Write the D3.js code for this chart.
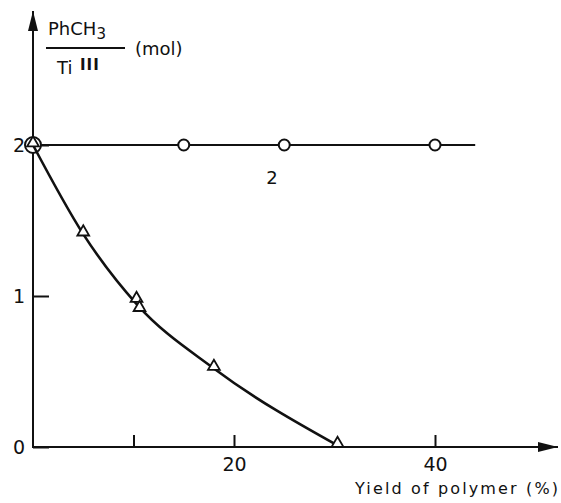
<!DOCTYPE html>
<html>
<head>
<meta charset="utf-8">
<script src="https://cdn.jsdelivr.net/npm/d3@7"></script>
<style>
  body { margin: 0; background: #fff; }
  text { font-family: "DejaVu Sans", "Liberation Sans", Arial, sans-serif; fill: #111; }
</style>
</head>
<body>
<div id="chart"></div>
<script>
// data
var circleYield = [0, 15, 25, 40];
var circleRatio = [2, 2, 2, 2];
var lineYield = [0, 44];          // horizontal line 2 extent
var triYield = [0, 5, 10.3, 10.6, 18, 30.3];
var triRatio = [2, 1.41, 0.97, 0.91, 0.52, 0.01];
var curveYield = [0, 5, 10.4, 18, 30.3];   // smooth curve drawn through the triangles
var curveRatio = [2, 1.41, 0.94, 0.52, 0.01];
var xTicks = [10, 20, 40];
var xTickLabels = [20, 40];
var yTicks = [0, 1, 2];

var svgWidth = 561;
var svgHeight = 503;

var svg = d3.select("#chart")
  .append("svg")
  .attr("width", svgWidth)
  .attr("height", svgHeight);

// scales (pixel positions taken from the figure)
var x = d3.scaleLinear().domain([0, 40]).range([33, 435]);
var y = d3.scaleLinear().domain([0, 2]).range([447, 145]);

var ink = "#111";

// arrowheads
var defs = svg.append("defs");
defs.append("marker")
  .attr("id", "arrow")
  .attr("viewBox", "0 0 20 10")
  .attr("refX", 20)
  .attr("refY", 5)
  .attr("markerWidth", 20)
  .attr("markerHeight", 10)
  .attr("markerUnits", "userSpaceOnUse")
  .attr("orient", "auto")
  .append("path")
  .attr("d", "M0,0 L20,5 L0,10 Z")
  .attr("fill", ink);

// x axis
var xAxis = d3.axisBottom(x)
  .tickValues(xTicks)
  .tickSizeInner(-12)
  .tickSizeOuter(0)
  .tickPadding(8)
  .tickFormat(d => xTickLabels.indexOf(d) >= 0 ? d : "");

var gx = svg.append("g")
  .attr("transform", `translate(0, ${y(0)})`)
  .call(xAxis);
gx.select(".domain").remove();
gx.selectAll(".tick line").attr("stroke", ink).attr("stroke-width", 2);
gx.selectAll(".tick text")
  .attr("font-size", 19)
  .attr("font-family", "DejaVu Sans, sans-serif")
  .attr("dy", "0.85em")
  .style("fill", ink);

svg.append("line")
  .attr("x1", x(0) - 1).attr("y1", y(0))
  .attr("x2", 558).attr("y2", y(0))
  .attr("stroke", ink).attr("stroke-width", 2)
  .attr("marker-end", "url(#arrow)");

// y axis
var yAxis = d3.axisLeft(y)
  .tickValues(yTicks)
  .tickSizeInner(-16)
  .tickSizeOuter(0)
  .tickPadding(8)
  .tickFormat(d3.format("d"));

var gy = svg.append("g")
  .attr("transform", `translate(${x(0)}, 0)`)
  .call(yAxis);
gy.select(".domain").remove();
gy.selectAll(".tick line").attr("stroke", ink).attr("stroke-width", 2);
gy.selectAll(".tick text")
  .attr("font-size", 19)
  .attr("font-family", "DejaVu Sans, sans-serif")
  .style("fill", ink);

svg.append("line")
  .attr("x1", x(0)).attr("y1", y(0) + 1)
  .attr("x2", x(0)).attr("y2", 11)
  .attr("stroke", ink).attr("stroke-width", 2)
  .attr("marker-end", "url(#arrow)");

// series 2 : flat line with circles
svg.append("line")
  .attr("x1", x(lineYield[0])).attr("y1", y(2))
  .attr("x2", x(lineYield[1])).attr("y2", y(2))
  .attr("stroke", ink).attr("stroke-width", 2.2);

svg.selectAll("circle.c2")
  .data(circleYield)
  .enter()
  .append("circle")
  .attr("class", "c2")
  .attr("cx", d => x(d))
  .attr("cy", (d, i) => y(circleRatio[i]))
  .attr("r", (d, i) => i === 0 ? 8 : 5.5)
  .attr("fill", "#fff")
  .attr("stroke", ink)
  .attr("stroke-width", 2);

svg.append("text")
  .attr("x", 272)
  .attr("y", 184)
  .attr("text-anchor", "middle")
  .attr("font-size", 18)
  .text("2");

// series 1 : curve with triangles
var curveLine = d3.line()
  .x(d => x(d[0]))
  .y(d => y(d[1]))
  .curve(d3.curveMonotoneX);

svg.append("path")
  .datum(curveYield.map((d, i) => [d, curveRatio[i]]))
  .attr("d", curveLine)
  .attr("fill", "none")
  .attr("stroke", ink)
  .attr("stroke-width", 2.6);

var tri = d3.symbol().type(d3.symbolTriangle).size(60);
svg.selectAll("path.tri")
  .data(triYield)
  .enter()
  .append("path")
  .attr("class", "tri")
  .attr("transform", (d, i) => `translate(${x(d)}, ${y(triRatio[i]) - 2})`)
  .attr("d", tri)
  .attr("fill", "#fff")
  .attr("stroke", ink)
  .attr("stroke-width", 1.8);

// y label: PhCH3 / Ti^III (mol)
var yl = svg.append("g");
yl.append("text")
  .attr("x", 48).attr("y", 35)
  .attr("font-size", 18)
  .text("PhCH")
  .append("tspan")
  .attr("font-size", 15)
  .attr("dy", 4)
  .text("3");
yl.append("line")
  .attr("x1", 46).attr("x2", 125)
  .attr("y1", 48).attr("y2", 48)
  .attr("stroke", ink).attr("stroke-width", 1.8);
yl.append("text")
  .attr("x", 57).attr("y", 74)
  .attr("font-size", 18)
  .text("Ti");
yl.append("text")
  .attr("x", 80).attr("y", 70)
  .attr("font-size", 15)
  .attr("font-family", "Liberation Serif, serif")
  .attr("font-weight", "bold")
  .attr("letter-spacing", 1)
  .text("III");
yl.append("text")
  .attr("x", 135).attr("y", 55)
  .attr("font-size", 18)
  .text("(mol)");

// x label
svg.append("text")
  .attr("x", 355)
  .attr("y", 494)
  .attr("font-size", 16)
  .attr("textLength", 203)
  .attr("lengthAdjust", "spacing")
  .text("Yield of polymer (%)");
</script>
</body>
</html>
